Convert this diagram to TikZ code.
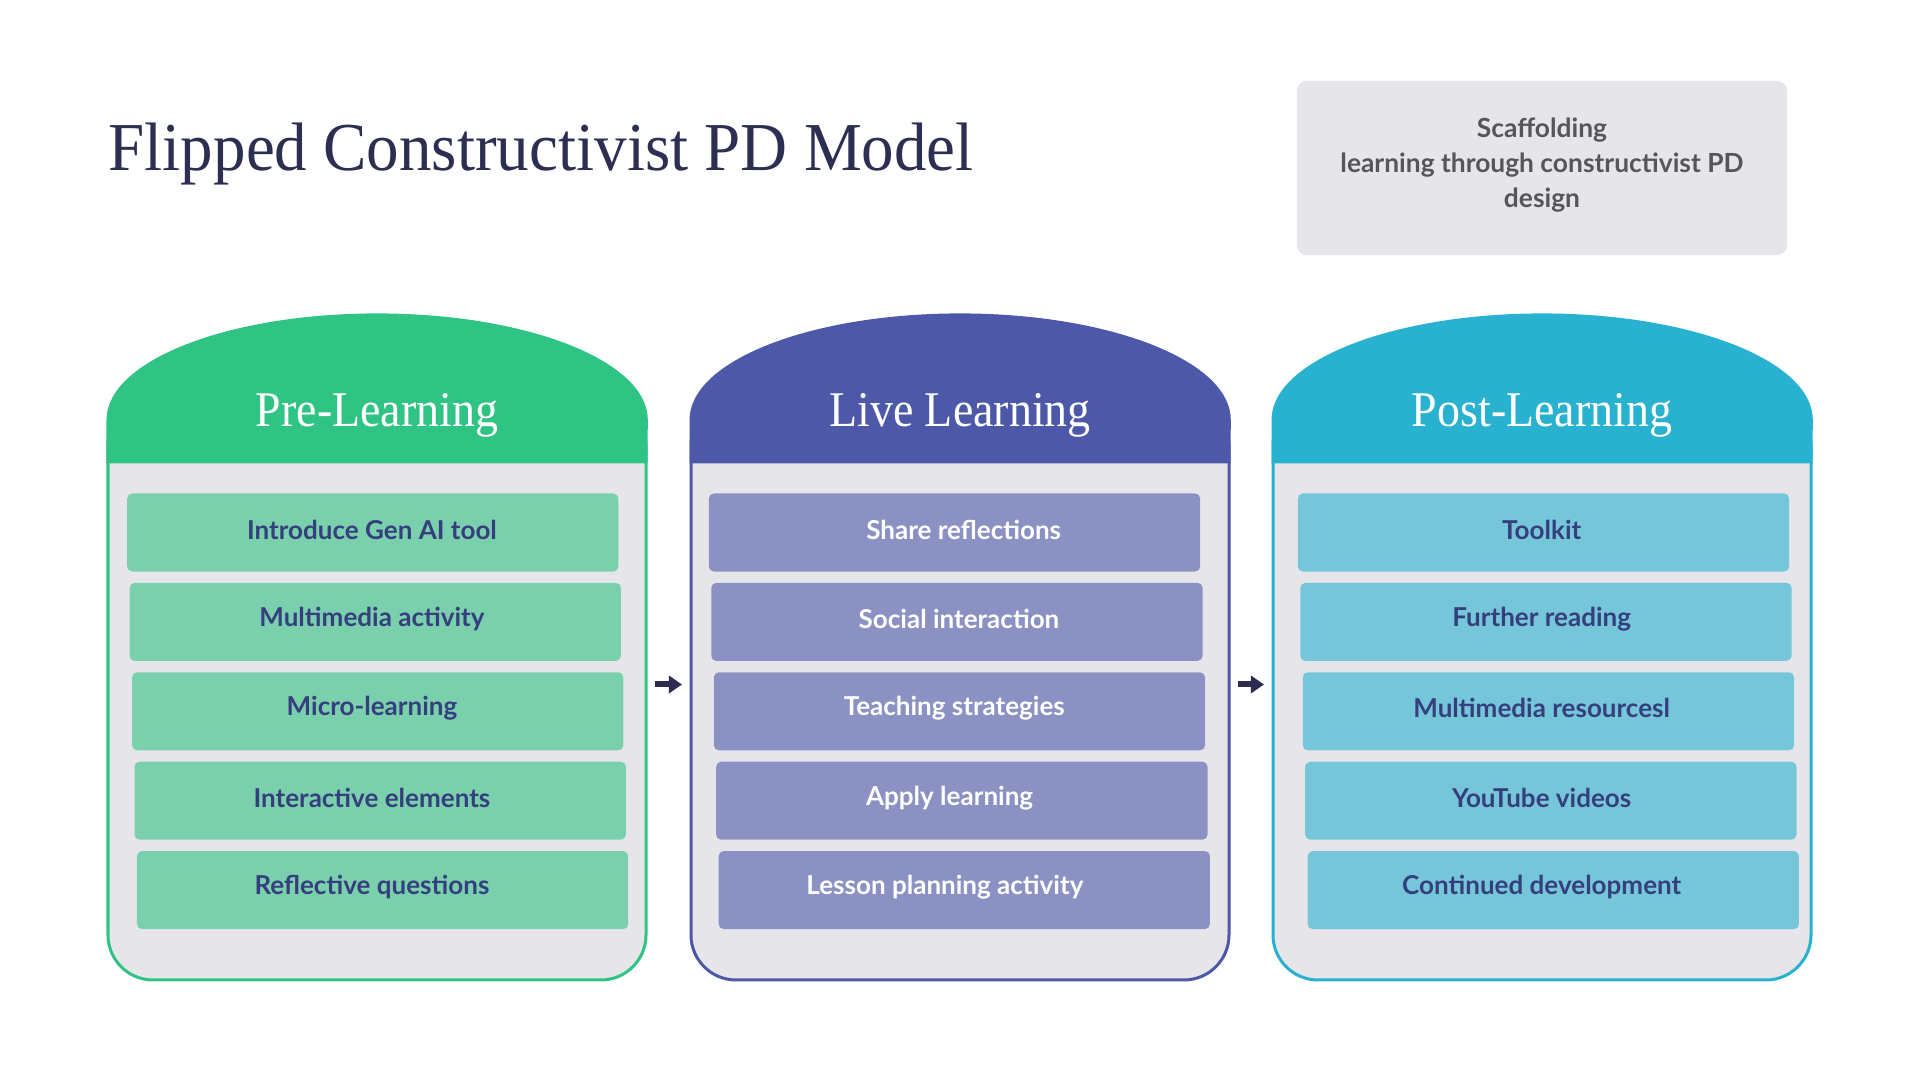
\documentclass[tikz,border=0pt]{standalone}
\usepackage{fontspec}
\setmainfont{Liberation Serif}
\newfontfamily\uifont{Lato}
\usetikzlibrary{arrows.meta}
\definecolor{titlecol}{HTML}{2D2F52}
\definecolor{bodygray}{HTML}{E6E6EA}
\definecolor{grnhdr}{HTML}{30C484}
\definecolor{grnitem}{HTML}{7AD0AD}
\definecolor{purhdr}{HTML}{4E58A8}
\definecolor{puritem}{HTML}{8B92C3}
\definecolor{tealhdr}{HTML}{28B2CF}
\definecolor{tealitem}{HTML}{76C6DA}
\definecolor{itemtext}{HTML}{363F7E}
\definecolor{subtext}{HTML}{55565B}
\definecolor{arrowcol}{HTML}{2E2B50}
\newcommand{\pdcol}[4]{%
  \path[fill=bodygray, draw=#2, line width=0.03cm, rounded corners=0.45cm] (#1,400) rectangle (#1+538,980);
  \path[fill=#2, draw=#2, line width=0.03cm] (#1,462) -- (#1,420) arc[start angle=180, end angle=0, x radius=2.69cm, y radius=1.05cm] -- (#1+538,462) -- cycle;
  \node[hdr] (#3) at (#1+269,415) {\scalebox{0.92}[1]{#4}};
}
\begin{document}
\begin{tikzpicture}[x=0.01cm,y=-0.01cm,
  hdr/.style={text=white, font=\fontsize{14.2}{16}\selectfont, inner sep=0pt},
  itembox/.style={rectangle, rounded corners=0.05cm, minimum width=4.91cm, minimum height=0.78cm, inner sep=0pt},
  itemtxt/.style={font=\uifont\bfseries\fontsize{7.4}{9}\selectfont, inner sep=0pt},
  arr/.style={draw=arrowcol, line width=0.06cm, -{Triangle[width=0.17cm,length=0.13cm]}, shorten <=0.09cm, shorten >=0.09cm}
]
\useasboundingbox (0,0) rectangle (1920,1080);
\fill[white] (0,0) rectangle (1920,1080);

% title
\node[anchor=base west, text=titlecol, font=\fontsize{19.5}{22}\selectfont, inner sep=0pt] (title) at (108,171) {\scalebox{0.948}[1]{Flipped Constructivist PD Model}};

% subtitle box
\node[fill=bodygray, rounded corners=0.1cm, minimum width=4.9cm, minimum height=1.74cm, inner sep=0pt] (subbox) at (1542,168) {};
\node[text=subtext, align=center, font=\uifont\bfseries\fontsize{7.5}{9.96}\selectfont, inner sep=0pt] (subtxt) at (1542,165) {Scaffolding\\learning through constructivist PD\\design};

% columns
\pdcol{108}{grnhdr}{h1}{Pre-Learning}
\pdcol{691}{purhdr}{h2}{Live Learning}
\pdcol{1273}{tealhdr}{h3}{Post-Learning}

% column 1 items
\foreach \t [count=\i from 0] in {Introduce Gen AI tool, Multimedia activity, Micro-learning, Interactive elements, Reflective questions} {
  \node[itembox, fill=grnitem] (a\i) at (127.3+245.5+2.45*\i, 532.5+89.4*\i) {};
  \node[itemtxt, text=itemtext] (ta\i) at (372, 529.5+89.4*\i) {\t};
}
% column 2 items
\foreach \t [count=\i from 0] in {Share reflections, Social interaction, Teaching strategies, Apply learning, Lesson planning activity} {
  \node[itembox, fill=puritem] (b\i) at (709+245.5+2.45*\i, 532.5+89.4*\i) {};
  \node[itemtxt, text=white] (tb\i) at (963.7-4.7*\i, 529.5+89.4*\i) {\t};
}
% column 3 items
\foreach \t [count=\i from 0] in {Toolkit, Further reading, Multimedia resourcesl, YouTube videos, Continued development} {
  \node[itembox, fill=tealitem] (c\i) at (1298+245.5+2.45*\i, 532.5+89.4*\i) {};
  \node[itemtxt, text=itemtext] (tc\i) at (1541.7, 529.5+89.4*\i) {\t};
}

% arrows between columns
\coordinate (c1e) at (646,684.5);
\coordinate (c2w) at (691,684.5);
\coordinate (c2e) at (1229,684.5);
\coordinate (c3w) at (1273,684.5);
\draw[arr] (c1e) -- (c2w);
\draw[arr] (c2e) -- (c3w);
\end{tikzpicture}
\end{document}
